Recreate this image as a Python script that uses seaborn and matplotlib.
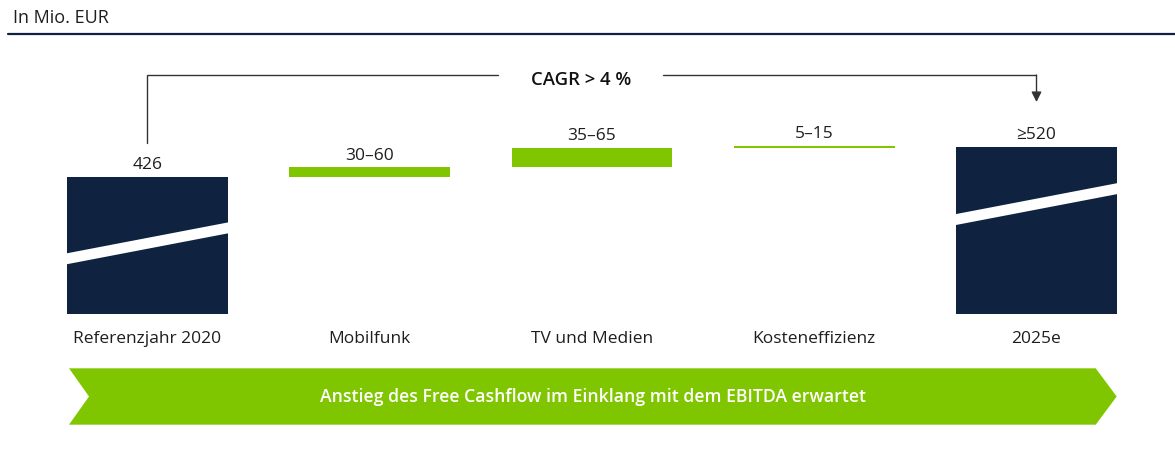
import matplotlib
matplotlib.use("Agg")
import matplotlib.pyplot as plt
import matplotlib.transforms as mtransforms
from matplotlib.patches import Polygon
from matplotlib.lines import Line2D
import seaborn as sns
import pandas as pd

# ---------------- data ----------------
categories = ["Referenzjahr 2020", "Mobilfunk", "TV und Medien", "Kosteneffizienz", "2025e"]
value_labels = ["426", "30–60", "35–65", "5–15", "≥520"]
start_value = 426
drawn_increases = [30, 61, 6]      # heights of the range bars as drawn in the reference
end_value = 520
cagr_label = "CAGR > 4 %"
unit_label = "In Mio. EUR"
banner_text = "Anstieg des Free Cashflow im Einklang mit dem EBITDA erwartet"

# ---------------- style ----------------
NAVY = "#0f2341"
GREEN = "#80c600"
TEXT = "#1e1e1e"
W, H, DPI = 1175, 461, 100

sns.set_theme(style="white")
plt.rcParams["font.family"] = ["Open Sans", "DejaVu Sans"]
plt.rcParams["font.stretch"] = "normal"
FS = 12.5

# waterfall geometry from the values
tops, bottoms = [start_value], [0]
running = start_value
for inc in drawn_increases:
    bottoms.append(running)
    running += inc
    tops.append(running)
tops.append(end_value)
bottoms.append(0)
kinds = ["total"] + ["step"] * len(drawn_increases) + ["total"]

df = pd.DataFrame({"category": categories, "top": tops, "bottom": bottoms, "kind": kinds})

fig = plt.figure(figsize=(W / DPI, H / DPI), dpi=DPI)
pix = mtransforms.Affine2D().scale(1 / W, -1 / H).translate(0, 1) + fig.transFigure

# axes: y=0 at pixel 313.7, scale 0.3214 px per unit
y0_px, top_px, k = 313.7, 60.0, 0.3214
ax = fig.add_axes([0, (H - y0_px) / H, 1, (y0_px - top_px) / H])

bar_w = 0.7244
palette = {"total": NAVY, "step": GREEN}
sns.barplot(data=df, x="category", y="top", hue="kind", palette=palette, width=bar_w,
            dodge=False, saturation=1, legend=False, linewidth=0, ax=ax)
sns.barplot(data=df, x="category", y="bottom", color="white", width=bar_w + 0.02,
            saturation=1, linewidth=0, ax=ax)

ax.set_xlim(-147.5 / 222.25, (W - 147.5) / 222.25)
ax.set_ylim(0, (y0_px - top_px) / k)
for s in ax.spines.values():
    s.set_visible(False)
ax.set_yticks([])
ax.set_xlabel("")
ax.set_ylabel("")
ax.tick_params(axis="x", length=0, pad=12.5, labelsize=FS, labelcolor=TEXT)
ax.set_xticks(range(len(categories)))
ax.set_xticklabels(categories)

# white diagonal stripes in the navy bars
stripe_base = {0: 154, len(categories) - 1: 276}
stripe_thick, stripe_rise = 34, 96
for i, base in stripe_base.items():
    xl, xr = i - bar_w / 2, i + bar_w / 2
    poly = Polygon([(xl, base), (xr, base + stripe_rise), (xr, base + stripe_rise + stripe_thick),
                    (xl, base + stripe_thick)], closed=True, facecolor="white", edgecolor="none")
    ax.add_patch(poly)

# value labels
for i, (t, lab) in enumerate(zip(tops, value_labels)):
    ax.annotate(lab, xy=(i, t), xytext=(0, 5.5), textcoords="offset points",
                ha="center", va="baseline", fontsize=FS, color=TEXT)

# CAGR bracket
y_br = (y0_px - 75) / k
y_start = (y0_px - 142.7) / k
y_tip = (y0_px - 102) / k
x_txt = 1.95
gap = 165 / 222.25 / 2
lc = "#333333"
ax.plot([0, 0, x_txt - gap], [y_start, y_br, y_br], color=lc, lw=1, clip_on=False,
        solid_joinstyle="miter")
ax.plot([x_txt + gap, len(categories) - 1], [y_br, y_br], color=lc, lw=1, clip_on=False)
ax.annotate("", xy=(len(categories) - 1, y_tip), xytext=(len(categories) - 1, y_br),
            arrowprops=dict(arrowstyle="-|>,head_length=0.5,head_width=0.25", color=lc, lw=1,
                            shrinkA=0, shrinkB=0), annotation_clip=False)
ax.text(x_txt, (y0_px - 80) / k, cagr_label, ha="center", va="center", fontsize=13.3,
        fontweight=600, fontstretch="normal", color="#111111")

# header
fig.text(13, 18, unit_label, transform=pix, ha="left", va="center", fontsize=13, color=TEXT)
fig.add_artist(Line2D([8, W], [34.5, 34.5], transform=pix, color=NAVY, lw=1.6))

# green banner arrow
banner = Polygon([(69, 368.3), (1095.7, 368.3), (1116.7, 396.5), (1095.7, 424.7),
                  (69, 424.7), (89, 396.5)], closed=True, transform=pix,
                 facecolor=GREEN, edgecolor="none")
fig.add_artist(banner)
fig.text(593, 396.5, banner_text, transform=pix, ha="center", va="center", fontsize=12.7,
         fontweight=600, fontstretch="normal", color="white")

fig.savefig("out.png", dpi=DPI)
